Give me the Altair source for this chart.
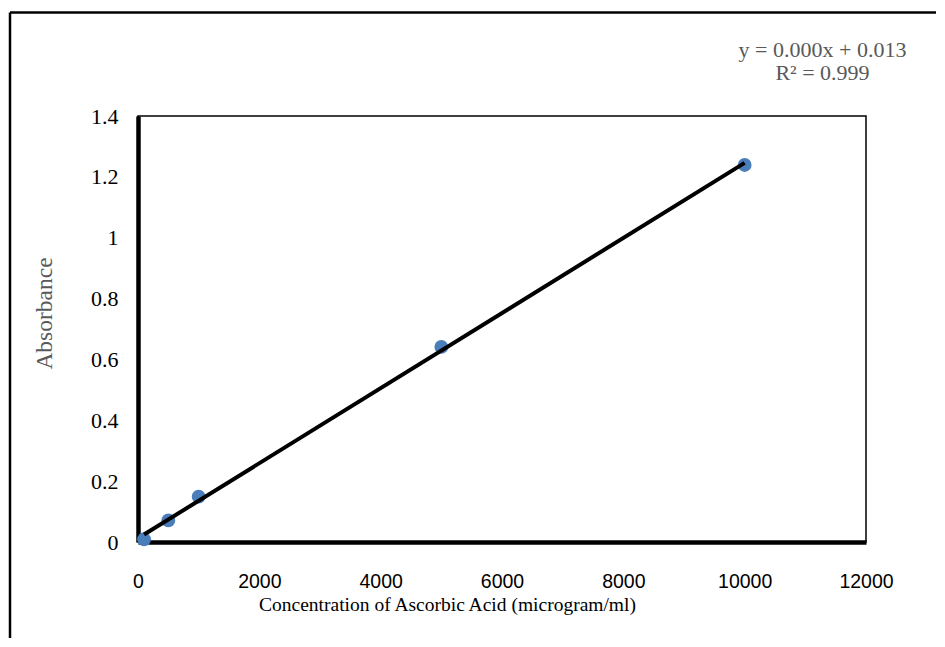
import altair as alt
import pandas as pd

# Data
concentration = [100, 500, 1000, 5000, 10000]
absorbance = [0.009, 0.071, 0.149, 0.641, 1.239]
x_ticks = [0, 2000, 4000, 6000, 8000, 10000, 12000]
y_ticks = [0, 0.2, 0.4, 0.6, 0.8, 1.0, 1.2, 1.4]
equation_lines = ["y = 0.000x + 0.013", "R\u00b2 = 0.999"]

df = pd.DataFrame({"x": concentration, "y": absorbance})
eq_df = pd.DataFrame({"label": equation_lines, "row": [0, 1]})
one = pd.DataFrame({"a": [0]})

W, H = 728, 426

xscale = alt.Scale(domain=[0, 12000], nice=False, zero=True)
yscale = alt.Scale(domain=[0, 1.4], nice=False)

xaxis = alt.Axis(
    values=x_ticks, format="d", grid=False, ticks=False,
    domainColor="black", domainWidth=4.5,
    labelFont="Liberation Sans", labelFontSize=19.5, labelColor="#000000",
    labelPadding=30, labelFlush=False,
    title="Concentration of Ascorbic Acid (microgram/ml)",
    titleFont="Liberation Serif", titleFontSize=19.5, titleFontWeight="normal",
    titleColor="#000000", titleX=309, titleY=68, titleBaseline="alphabetic",
    titleAnchor="middle", titleAlign="center",
)
yaxis = alt.Axis(
    values=y_ticks, labelExpr="format(datum.value, '~g')", grid=False, ticks=False,
    domainColor="black", domainWidth=4.5,
    labelFont="Liberation Serif", labelFontSize=22, labelColor="#000000",
    labelPadding=20, labelFlush=False,
    title="Absorbance",
    titleFont="Liberation Serif", titleFontSize=23.5, titleFontWeight="normal",
    titleColor="#595959", titleX=-94, titleY=197, titleBaseline="middle",
    titleAngle=270, titleAlign="center",
)

points = alt.Chart(df).mark_circle(size=190, color="#4A7EBB", opacity=1).encode(
    x=alt.X("x:Q", scale=xscale, axis=xaxis),
    y=alt.Y("y:Q", scale=yscale, axis=yaxis),
)

trend = alt.Chart(df).transform_regression("x", "y").mark_line(
    color="black", strokeWidth=4
).encode(
    x=alt.X("x:Q", scale=xscale),
    y=alt.Y("y:Q", scale=yscale),
)

def eq_layer(row, ypos):
    return alt.Chart(eq_df).transform_filter(alt.datum.row == row).mark_text(
        font="Liberation Serif", fontSize=22, color="#595959", align="center",
        baseline="alphabetic",
    ).encode(
        x=alt.value(684.5),
        y=alt.value(ypos),
        text="label:N",
    )

eq1 = eq_layer(0, -59)
eq2 = eq_layer(1, -36)

frame_top = alt.Chart(one).mark_rule(color="black", strokeWidth=2.5).encode(
    x=alt.value(-128), x2=alt.value(805), y=alt.value(-103.5)
)
frame_left = alt.Chart(one).mark_rule(color="black", strokeWidth=2.5).encode(
    x=alt.value(-128), y=alt.value(-103.5), y2=alt.value(530)
)

chart = alt.layer(frame_top, frame_left, points, trend, eq1, eq2).properties(
    width=W, height=H,
    autosize=alt.AutoSizeParams(type="none"),
    padding={"left": 130, "top": 108, "right": 70, "bottom": 96},
    background="white",
).configure_view(stroke="black", strokeWidth=1.5)

chart.save("out.html", embed_options={"renderer": "svg", "actions": False})
